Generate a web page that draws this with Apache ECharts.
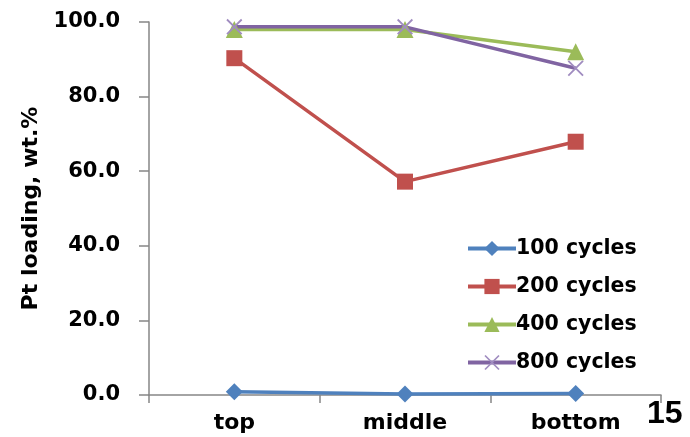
<!DOCTYPE html>
<html>
<head>
<meta charset="utf-8">
<script src="https://cdn.jsdelivr.net/npm/echarts@6/dist/echarts.min.js"></script>
<style>
  html, body { margin: 0; padding: 0; background: #fff; }
  #chart { width: 690px; height: 437px; }
</style>
</head>
<body>
<div id="chart"></div>
<script>
// Positions along the electrode
const categories = ['top', 'middle', 'bottom'];

// Pt loading (wt.%) after each number of cycles
const cycles100 = [0.9, 0.3, 0.4];
const cycles200 = [90.3, 57.2, 67.9];
const cycles400 = [98.0, 98.0, 92.0];
const cycles800 = [98.7, 98.7, 87.6];

const seriesNames = ['100 cycles', '200 cycles', '400 cycles', '800 cycles'];
const yTicks = [0, 20, 40, 60, 80, 100];

const FONT = 'DejaVu Sans';
const crossPath = 'path://M0,0.8L0.8,0L10,9.2L9.2,10ZM9.2,0L10,0.8L0.8,10L0,9.2Z';

const chart = echarts.init(document.getElementById('chart'));

function lineSeries(name, data, color, symbol, size, markColor) {
  return {
    name: name,
    type: 'line',
    data: data,
    symbol: symbol,
    symbolSize: size,
    lineStyle: { color: color, width: 3.5 },
    itemStyle: { color: markColor || color },
    emphasis: { disabled: true },
    z: 3
  };
}

chart.setOption({
  animation: false,
  backgroundColor: '#fff',
  grid: { left: 149, right: 29, top: 22, bottom: 42, containLabel: false },
  legend: {
    orient: 'vertical',
    left: 461,
    top: 233,
    itemWidth: 48,
    itemHeight: 19,
    itemGap: 17,
    data: seriesNames,
    lineStyle: { width: 4 },
    textStyle: { fontFamily: FONT, fontWeight: 'bold', fontSize: 20.5, color: '#000', lineHeight: 21, padding: [0, 0, 0, -5] }
  },
  xAxis: {
    type: 'category',
    data: categories,
    boundaryGap: true,
    axisLine: { lineStyle: { color: '#868686', width: 1.5 } },
    axisTick: { show: true, length: 8, lineStyle: { color: '#868686', width: 1.5 } },
    axisLabel: { margin: 17, fontFamily: FONT, fontWeight: 'bold', fontSize: 22, color: '#000' }
  },
  yAxis: {
    type: 'value',
    min: yTicks[0],
    max: yTicks[yTicks.length - 1],
    interval: 20,
    name: 'Pt loading, wt.%',
    nameLocation: 'middle',
    nameGap: 107,
    nameRotate: 90,
    nameTextStyle: { fontFamily: FONT, fontWeight: 'bold', fontSize: 22, color: '#000' },
    axisLine: { show: true, lineStyle: { color: '#868686', width: 1.5 } },
    axisTick: { show: true, inside: false, length: 10, lineStyle: { color: '#868686', width: 1.5 } },
    splitLine: { show: false },
    axisLabel: {
      margin: 29,
      fontFamily: FONT, fontWeight: 'bold', fontSize: 21, color: '#000',
      formatter: v => v.toFixed(1)
    }
  },
  series: [
    lineSeries(seriesNames[0], cycles100, '#4F81BD', 'diamond', 17),
    lineSeries(seriesNames[1], cycles200, '#C0504D', 'rect', 16),
    lineSeries(seriesNames[2], cycles400, '#9BBB59', 'triangle', 17),
    lineSeries(seriesNames[3], cycles800, '#8064A2', crossPath, 16, '#A08CC0')
  ],
  graphic: [{
    type: 'text',
    left: 647,
    top: 398,
    style: { text: '15', fontFamily: 'Liberation Sans', fontWeight: 'bold', fontSize: 32, fill: '#000' }
  }]
});
</script>
</body>
</html>
